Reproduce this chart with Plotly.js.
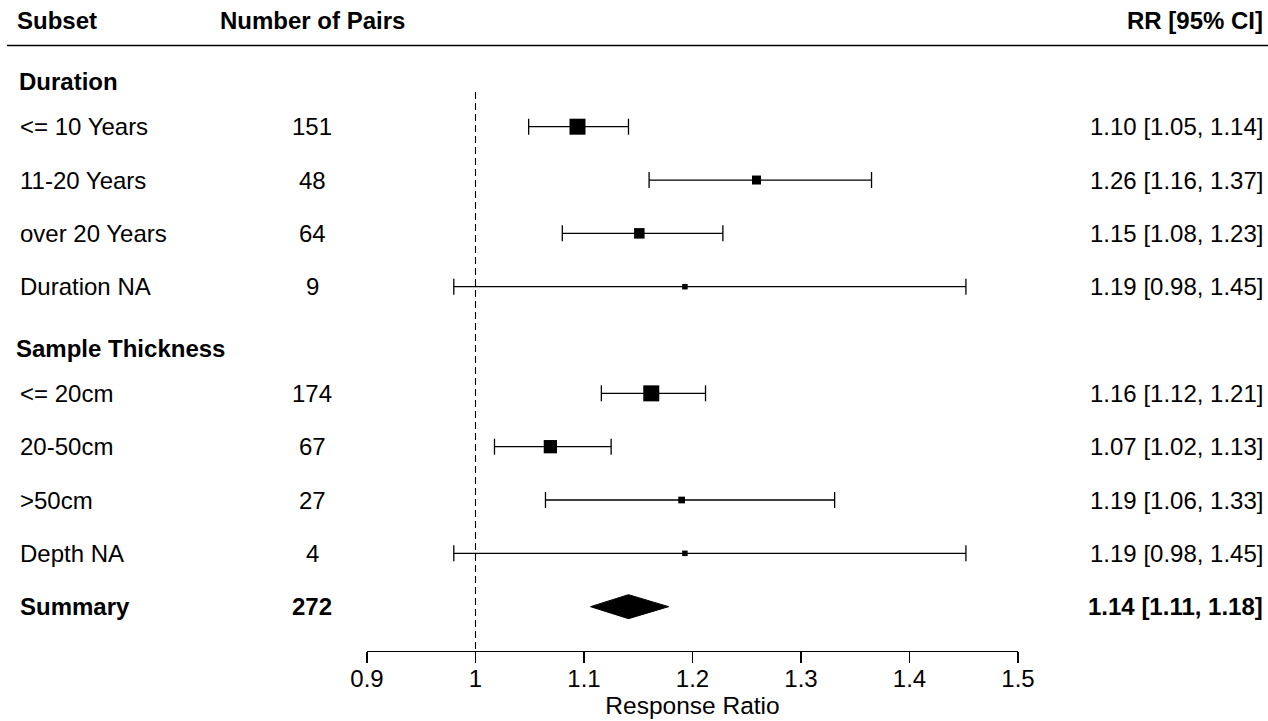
<!DOCTYPE html>
<html>
<head>
<meta charset="utf-8">
<script src="https://cdn.plot.ly/plotly-3.0.1.min.js"></script>
<style>html,body{margin:0;padding:0;background:#fff;}#chart{width:1268px;height:721px;}</style>
</head>
<body>
<div id="chart"></div>
<script>
// ---- data ----
const groupNames = ["Duration", "Sample Thickness"];
const subsets = ["<= 10 Years", "11-20 Years", "over 20 Years", "Duration NA",
                 "<= 20cm", "20-50cm", ">50cm", "Depth NA"];
const groupOf = [0, 0, 0, 0, 1, 1, 1, 1];
const nPairs = [151, 48, 64, 9, 174, 67, 27, 4];
const rr = [1.094, 1.259, 1.151, 1.193, 1.162, 1.069, 1.190, 1.193];
const ciLow = [1.049, 1.160, 1.080, 0.980, 1.116, 1.0175, 1.0645, 0.980];
const ciHigh = [1.141, 1.365, 1.228, 1.452, 1.212, 1.125, 1.331, 1.452];
const rrLabels = ["1.10 [1.05, 1.14]", "1.26 [1.16, 1.37]", "1.15 [1.08, 1.23]", "1.19 [0.98, 1.45]",
                  "1.16 [1.12, 1.21]", "1.07 [1.02, 1.13]", "1.19 [1.06, 1.33]", "1.19 [0.98, 1.45]"];
const summaryLabel = "Summary";
const summaryN = 272;
const summaryRR = 1.141;
const summaryLow = 1.106;
const summaryHigh = 1.178;
const summaryText = "1.14 [1.11, 1.18]";
const tickVals = [0.9, 1.0, 1.1, 1.2, 1.3, 1.4, 1.5];
const tickLabels = ["0.9", "1", "1.1", "1.2", "1.3", "1.4", "1.5"];
const headers = ["Subset", "Number of Pairs", "RR [95% CI]"];
const xTitle = "Response Ratio";
const refValue = 1;

// ---- style / layout ----
const markerSizes = [16, 9, 10.5, 5.5, 16, 13.3, 6.7, 5.5];
const FONT = "Liberation Sans, Arial, sans-serif";
const FS = 24;
const PL = 367, PR = 1018, W = 1268, H = 721;
const AXIS_PX = 651;
const px2p = px => (px - PL) / (PR - PL);
const xLabel = px2p(18), xN = px2p(312), xRR = px2p(1265);

// row positions: groups separated by a blank row
const rowY = [];
let r = 1;
for (let i = 0; i < subsets.length; i++) {
  if (i > 0 && groupOf[i] !== groupOf[i - 1]) r++;
  rowY.push(r);
  r++;
}
const summaryY = r;
const groupY = groupNames.map((g, gi) => rowY[groupOf.indexOf(gi)] - 0.85);
const headerY = -0.99;

const traces = [];
traces.push({
  type: "scatter", mode: "markers",
  x: rr, y: rowY,
  marker: {symbol: "square", size: markerSizes, color: "#000", opacity: 1, line: {width: 0}},
  error_x: {
    type: "data", symmetric: false,
    array: rr.map((v, i) => ciHigh[i] - v),
    arrayminus: rr.map((v, i) => v - ciLow[i]),
    color: "#000", thickness: 1.3, width: 8
  },
  cliponaxis: false, hoverinfo: "skip", showlegend: false
});
const dh = 0.225;
traces.push({
  type: "scatter", mode: "lines",
  x: [summaryLow, summaryRR, summaryHigh, summaryRR, summaryLow],
  y: [summaryY, summaryY - dh, summaryY, summaryY + dh, summaryY],
  fill: "toself", fillcolor: "#000", line: {color: "#000", width: 1},
  hoverinfo: "skip", showlegend: false
});

const ann = [];
const txt = (x, y, text, anchor, bold) => ann.push({
  xref: "paper", yref: "y", x: x, y: y, text: bold ? "<b>" + text + "</b>" : text,
  xanchor: anchor, yanchor: "middle", showarrow: false,
  font: {family: FONT, size: FS, color: "#000"}
});
txt(px2p(15), headerY, headers[0], "left", true);
txt(xN, headerY, headers[1], "center", true);
txt(xRR, headerY, headers[2], "right", true);
groupNames.forEach((g, gi) => txt(px2p(gi === 0 ? 17 : 14), groupY[gi], g, "left", true));
subsets.forEach((s, i) => {
  txt(xLabel, rowY[i], s, "left", false);
  txt(xN, rowY[i], String(nPairs[i]), "center", false);
  txt(xRR, rowY[i], rrLabels[i], "right", false);
});
txt(xLabel, summaryY, summaryLabel, "left", true);
txt(xN, summaryY, String(summaryN), "center", true);
txt(xRR, summaryY, summaryText, "right", true);

const rowUnit = 53.33;
const yBottom = 1 + (AXIS_PX - 126.7) / rowUnit;
const yTop = 1 - 126.7 / rowUnit;

const shapes = [
  {type: "line", xref: "paper", yref: "y", x0: px2p(7), x1: px2p(1268),
   y0: -0.523, y1: -0.523, line: {color: "#000", width: 1.5}},
  {type: "line", xref: "x", yref: "y", x0: refValue, x1: refValue,
   y0: 0.349, y1: yBottom, line: {color: "#000", width: 1.1, dash: "7px,4px"}}
];

const layout = {
  width: W, height: H,
  margin: {l: PL, r: W - PR, t: 0, b: H - AXIS_PX, pad: 0},
  paper_bgcolor: "#fff", plot_bgcolor: "#fff",
  showlegend: false,
  xaxis: {
    range: [0.9, 1.5], tickvals: tickVals, ticktext: tickLabels,
    showgrid: false, zeroline: false, showline: true, linecolor: "#000", linewidth: 1.2,
    ticks: "outside", ticklen: 11, tickwidth: 1.2, tickcolor: "#000",
    ticklabelstandoff: -5,
    tickfont: {family: FONT, size: 24, color: "#000"},
    title: {text: xTitle, font: {family: FONT, size: 24.5, color: "#000"}, standoff: 4},
    automargin: false, fixedrange: true
  },
  yaxis: {range: [yBottom, yTop], visible: false, fixedrange: true, automargin: false},
  shapes: shapes,
  annotations: ann
};

Plotly.newPlot("chart", traces, layout, {staticPlot: true, displayModeBar: false});
</script>
</body>
</html>
